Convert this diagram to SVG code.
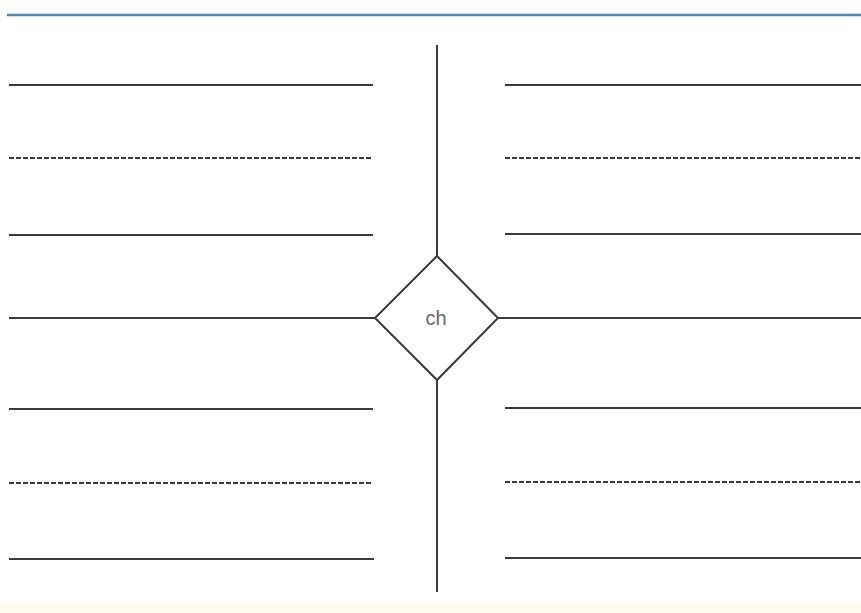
<svg xmlns="http://www.w3.org/2000/svg" width="861" height="613" viewBox="0 0 861 613">
<style>
.ln{stroke:#3a3a3a;stroke-width:2;fill:none}
.ds{stroke:#3a3a3a;stroke-width:2.2;fill:none;stroke-dasharray:5 2}
.lbl{font-family:"Liberation Sans",Arial,sans-serif;font-size:20px;fill:#6a6a6a;text-anchor:middle}
</style>
<rect width="861" height="613" fill="#ffffff"/>
<rect x="0" y="602" width="861" height="11" fill="#fffdf0"/>
<line x1="7" y1="15" x2="861" y2="15" stroke="#5a86b0" stroke-width="2.5"/>
<g id="connectors">
<line class="ln" x1="437" y1="45" x2="437" y2="256"/>
<line class="ln" x1="437" y1="380" x2="437" y2="592"/>
<line class="ln" x1="9" y1="85" x2="373" y2="85"/>
<line class="ds" x1="9" y1="158" x2="373" y2="158"/>
<line class="ln" x1="9" y1="235" x2="373" y2="235"/>
<line class="ln" x1="9" y1="318" x2="375" y2="318"/>
<line class="ln" x1="9" y1="409" x2="373" y2="409"/>
<line class="ds" x1="9" y1="483" x2="373" y2="483"/>
<line class="ln" x1="9" y1="559" x2="374" y2="559"/>
<line class="ln" x1="505" y1="85" x2="861" y2="85"/>
<line class="ds" x1="505" y1="158" x2="861" y2="158"/>
<line class="ln" x1="505" y1="234" x2="861" y2="234"/>
<line class="ln" x1="498" y1="318" x2="861" y2="318"/>
<line class="ln" x1="505" y1="408" x2="861" y2="408"/>
<line class="ds" x1="505" y1="482" x2="861" y2="482"/>
<line class="ln" x1="505" y1="558" x2="861" y2="558"/>
</g>
<g id="ch">
<polygon class="ln" points="437,256 498,318 437,380 375,318" fill="#ffffff"/>
<text class="lbl" x="436" y="325">ch</text>
</g>
</svg>
